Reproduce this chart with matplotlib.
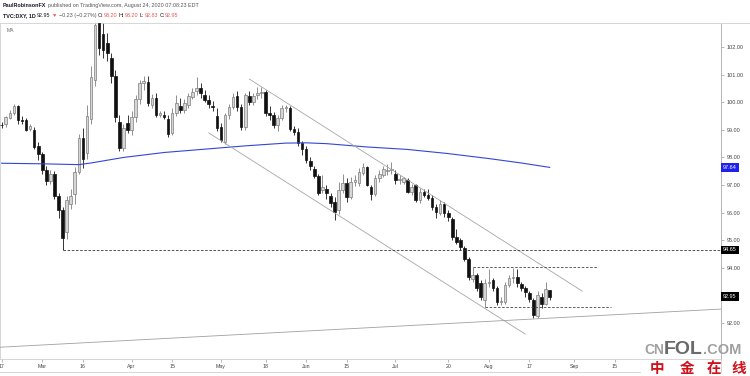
import numpy as np
import pandas as pd
import matplotlib
matplotlib.use("Agg")
import matplotlib.pyplot as plt
from matplotlib.lines import Line2D
from matplotlib.transforms import blended_transform_factory

plt.rcParams['font.family'] = ['Liberation Sans', 'DejaVu Sans']

# ---------------- data ----------------
dates = pd.bdate_range('2020-02-17', '2020-08-24')

opens = [99.18, 99.21, 99.42, 99.60, 99.86, 99.37, 99.35, 99.04, 99.00, 98.41,
         98.12, 97.54, 97.16, 97.40, 96.60, 96.09, 95.31, 96.33, 96.67, 97.48,
         98.69, 98.15, 99.40, 100.80, 102.86, 102.47, 102.13, 101.59, 100.95, 99.29,
         98.33, 99.23, 98.99, 99.47, 100.10, 100.68, 100.74, 99.90, 100.14, 99.54,
         99.52, 99.38, 98.87, 99.62, 99.86, 99.72, 99.90, 100.20, 100.42, 100.50,
         100.26, 100.08, 99.86, 99.50, 99.11, 98.57, 99.54, 99.84, 100.23, 99.84,
         99.11, 100.24, 100.02, 100.26, 100.33, 100.38, 99.60, 99.54, 99.17, 99.42,
         99.78, 99.78, 99.02, 98.93, 98.51, 98.29, 97.88, 97.57, 97.33, 96.82,
         96.84, 96.60, 96.40, 96.09, 96.82, 97.09, 96.58, 97.12, 97.06, 97.42,
         97.64, 96.94, 96.67, 97.24, 97.36, 97.50, 97.56, 97.40, 97.18, 97.12,
         97.18, 96.76, 97.00, 96.46, 96.76, 96.64, 96.52, 96.21, 96.00, 96.30,
         96.00, 95.76, 95.13, 95.01, 94.71, 94.34, 93.58, 93.74, 93.44, 92.83,
         93.44, 93.56, 93.26, 92.77, 92.77, 93.38, 93.62, 93.68, 93.41, 93.26,
         93.10, 92.83, 92.26, 92.95, 92.71, 93.20]
highs = [99.28, 99.50, 99.72, 99.92, 99.90, 99.50, 99.42, 99.22, 99.10, 98.55,
         98.20, 97.70, 97.55, 97.50, 96.70, 96.20, 96.60, 96.85, 97.65, 98.85,
         99.05, 99.90, 101.30, 103.00, 103.00, 102.90, 102.50, 101.80, 101.15, 99.55,
         99.20, 99.55, 99.70, 100.25, 100.80, 100.95, 100.95, 100.30, 100.35, 99.70,
         99.70, 99.55, 99.80, 100.25, 100.15, 100.10, 100.35, 100.50, 100.90, 100.70,
         100.45, 100.25, 100.05, 99.80, 99.25, 99.60, 99.95, 100.35, 100.40, 99.95,
         100.35, 100.40, 100.35, 100.55, 100.55, 100.45, 99.85, 99.65, 99.55, 99.90,
         99.90, 99.88, 99.15, 99.05, 98.60, 98.40, 98.00, 97.70, 97.40, 97.35,
         97.00, 96.70, 96.55, 97.10, 97.40, 97.25, 97.30, 97.35, 97.60, 97.80,
         97.70, 97.00, 97.35, 97.55, 97.70, 97.75, 97.84, 97.55, 97.35, 97.30,
         97.25, 97.05, 97.05, 96.90, 96.85, 96.85, 96.65, 96.30, 96.45, 96.40,
         96.10, 95.85, 95.40, 95.10, 94.80, 94.40, 94.02, 93.80, 93.55, 93.60,
         93.95, 93.65, 93.35, 92.95, 93.50, 93.75, 94.00, 93.95, 93.50, 93.35,
         93.15, 92.90, 93.15, 93.10, 93.50, 93.20]
lows = [99.05, 99.12, 99.38, 99.52, 99.20, 99.22, 98.95, 98.95, 98.30, 97.90,
        97.40, 97.00, 97.05, 96.50, 95.80, 94.65, 95.05, 96.15, 96.30, 97.40,
        97.60, 97.95, 99.20, 100.60, 101.70, 101.60, 101.50, 100.70, 99.30, 98.25,
        98.25, 98.90, 98.80, 99.30, 99.95, 100.45, 99.85, 99.80, 99.45, 99.45,
        99.40, 98.75, 98.80, 99.50, 99.60, 99.60, 99.80, 100.10, 100.25, 100.15,
        100.00, 99.80, 99.70, 98.95, 98.55, 98.50, 99.40, 99.75, 99.70, 99.00,
        99.00, 99.90, 99.90, 100.10, 100.15, 99.50, 99.35, 99.05, 98.95, 99.35,
        99.65, 98.95, 98.80, 98.40, 98.10, 97.80, 97.55, 97.25, 96.65, 96.70,
        96.50, 96.20, 95.75, 95.95, 96.70, 96.40, 96.50, 96.95, 96.95, 97.35,
        96.95, 96.45, 96.60, 97.10, 97.30, 97.35, 97.40, 97.05, 97.05, 97.05,
        96.70, 96.65, 96.40, 96.35, 96.55, 96.45, 96.10, 95.80, 95.90, 95.85,
        95.70, 95.00, 94.85, 94.65, 94.25, 93.55, 93.50, 93.15, 92.85, 92.58,
        93.30, 93.15, 92.65, 92.65, 92.70, 93.30, 93.45, 93.30, 93.15, 92.95,
        92.75, 92.17, 92.20, 92.55, 92.65, 92.83]
closes = [99.16, 99.45, 99.62, 99.86, 99.35, 99.33, 99.00, 99.14, 98.39, 98.12,
          97.54, 97.16, 97.40, 96.60, 96.09, 95.07, 96.46, 96.60, 97.48, 98.69,
          97.93, 99.50, 100.92, 102.80, 101.95, 101.89, 101.77, 100.95, 99.47, 98.33,
          99.05, 98.99, 99.47, 100.10, 100.68, 100.78, 99.96, 100.14, 99.54, 99.60,
          99.48, 98.85, 99.60, 99.96, 99.72, 99.96, 100.23, 100.38, 100.50, 100.32,
          100.08, 99.94, 99.82, 99.05, 98.63, 99.54, 99.84, 100.18, 99.81, 99.11,
          100.26, 100.02, 100.23, 100.32, 100.38, 99.60, 99.54, 99.17, 99.42, 99.78,
          99.82, 99.02, 98.93, 98.51, 98.29, 97.91, 97.69, 97.33, 96.72, 96.94,
          96.70, 96.36, 96.04, 96.82, 97.09, 96.58, 97.12, 97.18, 97.48, 97.66,
          97.00, 96.67, 97.24, 97.40, 97.57, 97.54, 97.58, 97.18, 97.20, 97.24,
          96.76, 96.94, 96.46, 96.76, 96.64, 96.52, 96.21, 96.03, 96.30, 96.00,
          95.83, 95.13, 94.95, 94.77, 94.34, 93.68, 93.74, 93.26, 92.95, 93.46,
          93.50, 93.26, 92.77, 92.80, 93.38, 93.62, 93.66, 93.44, 93.26, 93.13,
          92.89, 92.29, 93.01, 92.71, 93.22, 92.95]

ma_dates = ['2020-02-17', '2020-03-02', '2020-03-13', '2020-03-18', '2020-03-30',
            '2020-04-13', '2020-04-27', '2020-05-11', '2020-05-25', '2020-06-01',
            '2020-06-08', '2020-06-22', '2020-07-06', '2020-07-20', '2020-08-03',
            '2020-08-13', '2020-08-24']
ma_values = [97.79, 97.77, 97.74, 97.80, 98.00, 98.18, 98.30, 98.42, 98.52, 98.53,
             98.50, 98.38, 98.29, 98.14, 97.96, 97.80, 97.64]

upper_channel_dates = ['2020-05-12', '2020-09-03']
upper_channel_prices = [100.84, 93.16]
lower_channel_dates = ['2020-04-28', '2020-08-14']
lower_channel_prices = [98.89, 91.60]
support_dates = ['2020-02-17', '2020-08-24']
support_prices = [91.13, 92.18]

level_march = 94.65
level_march_start = '2020-03-09'
range_top = 94.02
range_top_dates = ['2020-07-28', '2020-09-09']
range_bottom = 92.59
range_bottom_dates = ['2020-07-31', '2020-09-14']

tick_dates = ['2020-02-17', '2020-03-02', '2020-03-16', '2020-04-01', '2020-04-15',
              '2020-05-01', '2020-05-18', '2020-06-01', '2020-06-15', '2020-07-01',
              '2020-07-20', '2020-08-03', '2020-08-17', '2020-09-01', '2020-09-15']
tick_labels = ['17', 'Mar', '16', 'Apr', '15', 'May', '18', 'Jun', '15', 'Jul',
               '20', 'Aug', '17', 'Sep', '15']
y_ticks = [92, 94, 95, 96, 97, 98, 99, 100, 101, 102]

price_labels = [97.64, 94.65, 92.95]
price_label_colors = ['#1f1ff0', '#000000', '#000000']

# ---------------- scale (trading-day index) ----------------
axis_dates = pd.bdate_range('2020-02-17', '2020-11-30')
pos = {d.strftime('%Y-%m-%d'): i for i, d in enumerate(axis_dates)}
def X(ds):
    return np.array([pos[d] for d in ds], dtype=float)

W, H = 750, 376
fig = plt.figure(figsize=(W / 100, H / 100), dpi=100)
fig.patch.set_facecolor('white')
ax = fig.add_axes([0 / W, 1 - 359 / H, 721 / W, (359 - 23) / H])
ax.set_facecolor('white')

O = np.array(opens); Hh = np.array(highs); L = np.array(lows); C = np.array(closes)
x = np.arange(len(dates), dtype=float)
up = C >= O
bot = np.minimum(O, C)
hgt = np.maximum(np.abs(C - O), 0.025)

ax.vlines(x[up], L[up], Hh[up], color='#7d7d7d', lw=0.6, zorder=2)
ax.vlines(x[~up], L[~up], Hh[~up], color='#141414', lw=0.6, zorder=2)
ax.bar(x[up], hgt[up], 0.64, bottom=bot[up], color='#d6d6d6', edgecolor='#7d7d7d',
       linewidth=0.5, zorder=3)
ax.bar(x[~up], hgt[~up], 0.64, bottom=bot[~up], color='#111111', edgecolor='#111111',
       linewidth=0.5, zorder=3)

# moving average
ax.plot(X(ma_dates), ma_values, color='#3346d3', lw=0.8, zorder=4)

# channel lines
ax.plot(X(upper_channel_dates), upper_channel_prices, color='#a6a6a6', lw=0.6, zorder=4)
ax.plot(X(lower_channel_dates), lower_channel_prices, color='#a6a6a6', lw=0.6, zorder=4)
sx = X(support_dates)
ax.axline((sx[0], support_prices[0]), (sx[1], support_prices[1]), color='#a0a0a0',
          lw=0.6, zorder=4)

xmin, xmax = -0.42, 177.2
ax.hlines(level_march, pos[level_march_start], xmax, colors='#333333', lw=0.6,
          linestyles=(0, (3, 2)), zorder=4)
rt = X(range_top_dates)
ax.hlines(range_top, rt[0], rt[1], colors='#444444', lw=0.6, linestyles=(0, (3, 2)), zorder=4)
rb = X(range_bottom_dates)
ax.hlines(range_bottom, rb[0], rb[1], colors='#444444', lw=0.6, linestyles=(0, (3, 2)), zorder=4)

ax.set_xlim(xmin, xmax)
ax.set_ylim(90.70, 102.87)

ax.set_xticks(X(tick_dates))
ax.set_xticklabels(tick_labels)
ax.yaxis.tick_right()
ax.set_yticks(y_ticks)
ax.set_yticklabels([f'{v:.2f}' for v in y_ticks])
ax.tick_params(axis='x', length=2, width=0.5, color='#9a9a9a', labelsize=3.8,
               labelcolor='#454545', pad=1.5)
ax.tick_params(axis='y', length=2.5, width=0.5, color='#9a9a9a', labelsize=4,
               labelcolor='#454545', pad=1.5)
for s in ['top', 'left', 'bottom']:
    ax.spines[s].set_color('#d0d0d0')
    ax.spines[s].set_linewidth(0.6)
ax.spines['right'].set_color('#a8a8a8')
ax.spines['right'].set_linewidth(0.6)

trans = blended_transform_factory(ax.transAxes, ax.transData)
for v, c in zip(price_labels, price_label_colors):
    ax.text(1.0 + 2.2 / 721, v, f'{v:.2f}', transform=trans, fontsize=4, color='white',
            va='center', ha='left', zorder=10,
            bbox=dict(boxstyle='square,pad=0.35', fc=c, ec='none'))

ax.text(7 / 721, 1 - (30 - 23) / 336, 'MA', transform=ax.transAxes, fontsize=3.6,
        color='#666666', va='center', ha='left')

# frame lines outside the axes
fig.add_artist(Line2D([721 / W, 1], [1 - 23 / H] * 2, color='#d0d0d0', lw=0.6))
fig.add_artist(Line2D([0, 640 / W], [1 - 372 / H] * 2, color='#d0d0d0', lw=0.6))
fig.add_artist(Line2D([721 / W] * 2, [1 - 359 / H, 1 - 372 / H], color='#d0d0d0', lw=0.6))

# header (rich text)
fig.canvas.draw()
renderer = fig.canvas.get_renderer()
def rich(x_px, y_px, parts, fs):
    xx = x_px
    for s, col, wt, gap in parts:
        t = fig.text(xx / W, 1 - y_px / H, s, color=col, fontweight=wt, fontsize=fs,
                     va='center', ha='left')
        bb = t.get_window_extent(renderer)
        xx += bb.width + gap

dark = '#131722'
grey = '#555555'
red = '#ef5350'
sp = 1.4
rich(3, 5.5, [('PaulRobinsonFX', dark, 'bold', sp),
              ('published on TradingView.com, August 24, 2020 07:08:23 EDT', grey, 'normal', 0)],
     3.9)
rich(3, 15.5, [('TVC:DXY, 1D', dark, 'bold', sp), ('92.95', dark, 'normal', sp),
               ('▼', red, 'normal', sp), ('−0.23 (−0.27%)', grey, 'normal', sp),
               ('O:', dark, 'normal', 0.3), ('93.20', red, 'normal', sp),
               ('H:', dark, 'normal', 0.3), ('93.20', red, 'normal', sp),
               ('L:', dark, 'normal', 0.3), ('92.83', red, 'normal', sp),
               ('C:', dark, 'normal', 0.3), ('92.95', red, 'normal', 0)], 3.9)

# watermark
fig.text(664 / W, 1 - 354 / H, 'CN', fontsize=10, color='#a0a0a0', ha='right',
         va='baseline', fontweight='bold')
t2 = fig.text(664 / W, 1 - 354 / H, 'FOL', fontsize=14, color='#6a6a6a', ha='left',
              va='baseline', fontweight='bold')
bb = t2.get_window_extent(renderer)
fig.text((664 + bb.width) / W, 1 - 354 / H, '.COM', fontsize=10.5, color='#a0a0a0',
         ha='left', va='baseline', fontweight='bold')
for ch, cx in zip(['中', '金', '在', '线'], [657, 687, 714, 739]):
    fig.text(cx / W, 1 - 368.5 / H, ch, fontsize=10.5, color='#d0101a', ha='center',
             va='center', family=['Noto Sans CJK SC'], fontweight='bold')

fig.savefig('out.png', dpi=100, facecolor='white')
